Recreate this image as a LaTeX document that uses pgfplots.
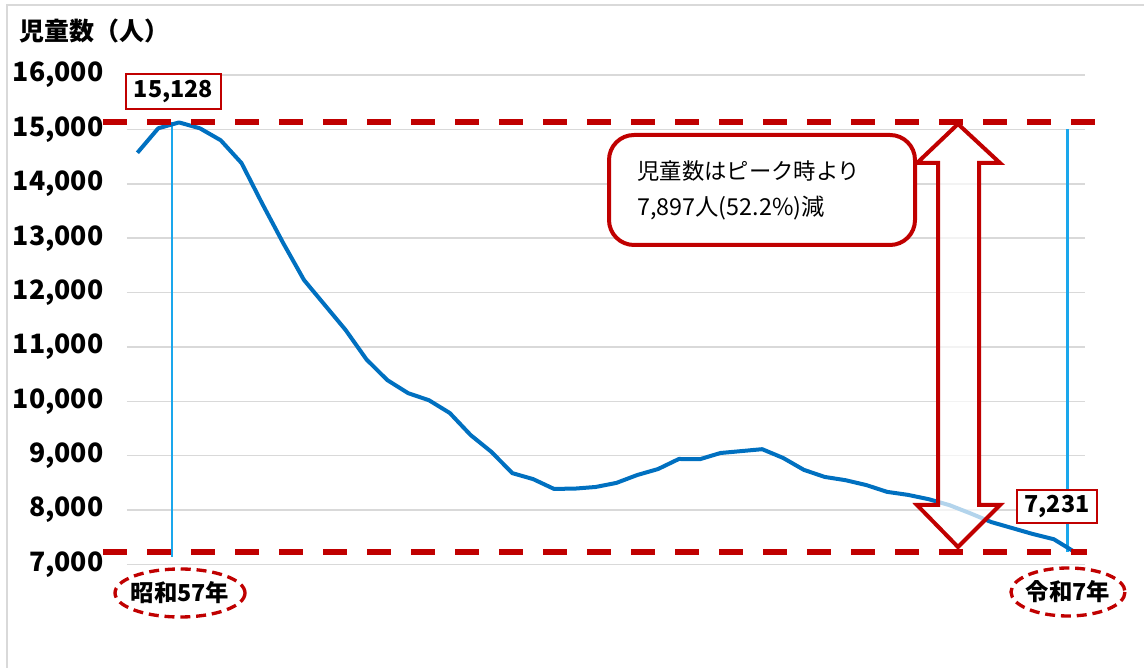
\documentclass[border=0pt]{standalone}
\usepackage{fontspec}
\setmainfont{Noto Sans CJK JP}
\usepackage{pgfplots}
\pgfplotsset{compat=1.18}
\definecolor{lineblue}{HTML}{0070C0}
\definecolor{guideblue}{HTML}{1AA7EC}
\definecolor{darkred}{HTML}{C00000}
\definecolor{gridgray}{HTML}{D9D9D9}

\begin{document}
\begin{tikzpicture}
\useasboundingbox (0pt,0pt) rectangle (686.4pt,400.8pt);

\begin{axis}[
  at={(76.2pt,62.1pt)}, anchor=south west,
  scale only axis, width=574.8pt, height=293.7pt,
  xmin=-0.5, xmax=45.5, ymin=7000, ymax=16000,
  xtick=\empty, ytick distance=1000, scaled y ticks=false,
  ymajorgrids, grid style={gridgray, line width=0.9pt},
  axis line style={draw=none}, major tick length=0pt,
  yticklabel style={font=\bfseries\fontsize{16}{18}\selectfont,
    /pgf/number format/fixed,
    /pgf/number format/1000 sep={,},
    /pgf/number format/assume math mode=true,
    anchor=east, inner sep=0pt, xshift=-14pt},
  clip=false,
]
% guide lines
\draw[guideblue, line width=1.3pt] (axis cs:1.66,15128) -- (axis cs:1.66,7138);
\draw[guideblue, line width=1.3pt] (axis cs:44.66,15000) -- (axis cs:44.66,7231);

% children count, 1980 (S55) .. 2025 (R7)
\addplot[lineblue, line width=2.4pt, line join=round] table {
x y
0 14570
1 15020
2 15128
3 15020
4 14800
5 14380
6 13630
7 12910
8 12230
9 11770
10 11310
11 10770
12 10390
13 10150
14 10020
15 9785
16 9380
17 9070
18 8680
19 8570
20 8390
21 8395
22 8425
23 8500
24 8645
25 8755
26 8940
27 8935
28 9050
29 9085
30 9120
31 8960
32 8740
33 8610
34 8550
35 8460
36 8335
37 8280
38 8200
39 8090
40 7940
41 7780
42 7670
43 7560
44 7465
45 7231
};

% peak / latest levels
\draw[darkred, line width=3.6pt, dash pattern=on 14.4pt off 12pt] (axis cs:-1.65,15128) -- (axis cs:46.3,15128);
\draw[darkred, line width=3.6pt, dash pattern=on 14.4pt off 12pt] (axis cs:-1.65,7231) -- (axis cs:45.6,7231);
\end{axis}

% annotations in image pixels, origin top-left
\begin{scope}[x=0.6pt, y=-0.6pt, yshift=400.8pt]
\draw[gridgray, line width=1.2pt] (1144,5) -- (7,5) -- (7,668);
\node[anchor=west, inner sep=0pt, font=\bfseries\fontsize{15}{17}\selectfont] at (19,31) {児童数（人）};

% value boxes
\draw[darkred, line width=0.9pt, fill=white] (126,74) rectangle (221,109);
\node[font=\bfseries\fontsize{14}{16}\selectfont] at (173.5,92) {15,128};
\draw[darkred, line width=0.9pt, fill=white] (1017,490) rectangle (1097,523);
\node[font=\bfseries\fontsize{14}{16}\selectfont] at (1057,507) {7,231};

% year ellipses
\draw[darkred, line width=2pt, dash pattern=on 6pt off 3.5pt, fill=white] (180,593) ellipse [x radius=65, y radius=24];
\node[font=\bfseries\fontsize{14}{16}\selectfont] at (180,593) {昭和57年};
\draw[darkred, line width=2pt, dash pattern=on 6pt off 3.5pt, fill=white] (1068,592) ellipse [x radius=57, y radius=24];
\node[font=\bfseries\fontsize{14}{16}\selectfont] at (1068,592) {令和7年};

% double arrow
\draw[darkred, line width=2.4pt, fill=white, fill opacity=0.7, line join=miter]
  (958,124) -- (1000,163) -- (979,163) -- (979,505) -- (1000,505) -- (958,547)
  -- (917,505) -- (938,505) -- (938,163) -- (917,163) -- cycle;

% callout
\draw[darkred, line width=2.4pt, fill=white, rounded corners=15pt] (609,135) rectangle (915,245);
\node[anchor=west, inner sep=0pt, font=\fontsize{13.4}{16}\selectfont] at (637,171) {児童数はピーク時より};
\node[anchor=west, inner sep=0pt, font=\fontsize{14}{16}\selectfont] at (637,208) {7,897人(52.2\%)減};
\end{scope}
\end{tikzpicture}
\end{document}
